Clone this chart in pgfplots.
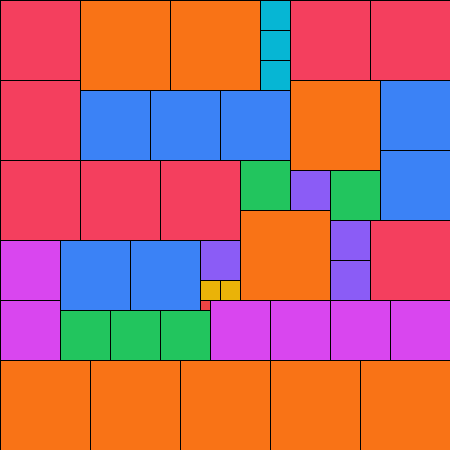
\documentclass[border=0pt]{standalone}
\usepackage{pgfplots}
\pgfplotsset{compat=1.18}
\definecolor{cR}{HTML}{F43F5E}
\definecolor{cO}{HTML}{F97316}
\definecolor{cC}{HTML}{06B6D4}
\definecolor{cB}{HTML}{3B82F6}
\definecolor{cG}{HTML}{22C55E}
\definecolor{cP}{HTML}{8B5CF6}
\definecolor{cM}{HTML}{D946EF}
\definecolor{cY}{HTML}{EAB308}
\definecolor{cr}{HTML}{EF4444}
\newcommand{\R}[5]{\addplot[fill=#5,draw=black,line width=0.6pt,mark=none] coordinates {(#1,#2) (#3,#2) (#3,#4) (#1,#4)} -- cycle;}
\begin{document}
\begin{tikzpicture}
\begin{axis}[width=10cm,height=10cm,scale only axis,xmin=0,xmax=450,ymin=0,ymax=450,y dir=reverse,axis lines=none]
% top band
\R{0}{0}{80}{80}{cR}
\R{80}{0}{170}{90}{cO}
\R{170}{0}{260}{90}{cO}
\R{260}{0}{290}{30}{cC}
\R{260}{30}{290}{60}{cC}
\R{260}{60}{290}{90}{cC}
\R{290}{0}{370}{80}{cR}
\R{370}{0}{450}{80}{cR}
% second
\R{0}{80}{80}{160}{cR}
\R{80}{90}{150}{160}{cB}
\R{150}{90}{220}{160}{cB}
\R{220}{90}{290}{160}{cB}
\R{290}{80}{380}{170}{cO}
\R{380}{80}{450}{150}{cB}
\R{380}{150}{450}{220}{cB}
% third
\R{0}{160}{80}{240}{cR}
\R{80}{160}{160}{240}{cR}
\R{160}{160}{240}{240}{cR}
\R{240}{160}{290}{210}{cG}
\R{290}{170}{330}{210}{cP}
\R{330}{170}{380}{220}{cG}
\R{240}{210}{330}{300}{cO}
\R{330}{220}{370}{260}{cP}
\R{330}{260}{370}{300}{cP}
\R{370}{220}{450}{300}{cR}
% fourth
\R{0}{240}{60}{300}{cM}
\R{60}{240}{130}{310}{cB}
\R{130}{240}{200}{310}{cB}
\R{200}{240}{240}{280}{cP}
\R{200}{280}{220}{300}{cY}
\R{220}{280}{240}{300}{cY}
\R{200}{300}{210}{310}{cr}
\R{0}{300}{60}{360}{cM}
\R{60}{310}{110}{360}{cG}
\R{110}{310}{160}{360}{cG}
\R{160}{310}{210}{360}{cG}
\R{210}{300}{270}{360}{cM}
\R{270}{300}{330}{360}{cM}
\R{330}{300}{390}{360}{cM}
\R{390}{300}{450}{360}{cM}
% bottom
\R{0}{360}{90}{450}{cO}
\R{90}{360}{180}{450}{cO}
\R{180}{360}{270}{450}{cO}
\R{270}{360}{360}{450}{cO}
\R{360}{360}{450}{450}{cO}
\end{axis}
\end{tikzpicture}
\end{document}
